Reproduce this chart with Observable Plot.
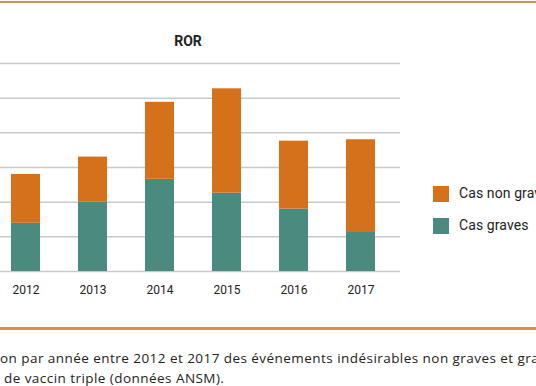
<!DOCTYPE html>
<html><head><meta charset="utf-8">
<script src="https://cdn.jsdelivr.net/npm/d3@7"></script>
<script src="https://cdn.jsdelivr.net/npm/@observablehq/plot@0.6"></script>
<style>
html,body{margin:0;padding:0;background:#fff;}
body{width:536px;height:386px;overflow:hidden;position:relative;font-family:Roboto,"DejaVu Sans",sans-serif;color:#222;}
.line{position:absolute;left:0;width:536px;background:#dc8f4c;}
#chart{position:absolute;left:0;top:0;}
#title{position:absolute;top:33px;left:148px;width:80px;text-align:center;font-weight:bold;font-size:14px;color:#222;}
.leg{position:absolute;left:433px;font-size:14px;white-space:nowrap;color:#222;letter-spacing:0.1px;}
.sw{display:inline-block;width:16px;height:16px;vertical-align:middle;margin-right:10px;}
#caption{position:absolute;left:0;top:348px;font-family:"Open Sans",Roboto,sans-serif;font-size:13.5px;line-height:20px;white-space:pre;color:#222;letter-spacing:0.45px;}
</style></head>
<body>
<div class="line" style="top:1px;height:2px;"></div>
<div id="chart"></div>
<div id="title">ROR</div>
<div id="legend"></div>
<div class="line" style="top:327px;height:3px;"></div>
<div id="caption"></div>
<script>
const years = ["2012", "2013", "2014", "2015", "2016", "2017"];
const graves = [13.9, 20.0, 26.6, 22.6, 18.0, 11.5];
const nonGraves = [14.1, 13.0, 22.2, 30.1, 19.6, 26.5];
const seriesNames = ["Cas graves", "Cas non graves"];
const seriesColors = ["#4b8a7e", "#d4711a"];
const gridTicks = [0, 10, 20, 30, 40, 50, 60];
const captionLines = ["on par année entre 2012 et 2017 des événements indésirables non graves et graves", " de vaccin triple (données ANSM)."];

const data = [];
years.forEach((y, i) => {
  data.push({year: y, series: seriesNames[0], value: graves[i]});
  data.push({year: y, series: seriesNames[1], value: nonGraves[i]});
});

const plot = Plot.plot({
  width: 536,
  height: 300,
  marginLeft: 8,
  marginRight: 159,
  marginTop: 63,
  marginBottom: 29,
  style: {fontFamily: "Roboto, 'DejaVu Sans', sans-serif", fontSize: "12px", color: "#222"},
  x: {domain: years, paddingInner: 0.57, paddingOuter: 0, label: null, tickSize: 0, tickPadding: 14},
  y: {domain: [0, 60], axis: null},
  color: {domain: seriesNames, range: seriesColors},
  marks: [
    Plot.ruleY(gridTicks, {stroke: "#c9c9c9", strokeWidth: 1.5, insetLeft: -8, insetRight: -23}),
    Plot.barY(data, {x: "year", y: "value", z: "series", fill: "series", order: seriesNames})
  ]
});
document.getElementById("chart").appendChild(plot);

const leg = document.getElementById("legend");
[[1, 187], [0, 219]].forEach(([i, top]) => {
  const d = document.createElement("div");
  d.className = "leg";
  d.style.top = (top - 2) + "px";
  d.innerHTML = `<span class="sw" style="background:${seriesColors[i]}"></span>${seriesNames[i]}`;
  leg.appendChild(d);
});
document.getElementById("caption").textContent = captionLines.join("\n");
</script>
</body></html>
